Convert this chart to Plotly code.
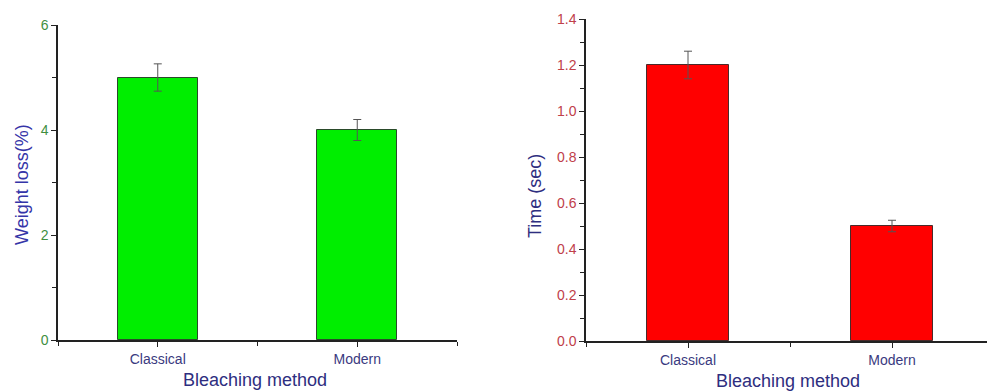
import plotly.graph_objects as go

# Data
methods = ["Classical", "Modern"]
weight_loss = [5.0, 4.0]
weight_loss_err = [0.26, 0.2]
time_sec = [1.2, 0.5]
time_sec_err = [0.06, 0.025]

W, H = 987, 391
xpos = [1, 2]


def px(x):
    return x / W


def py(y):
    return (H - y) / H


fig = go.Figure()

fig.add_trace(go.Bar(
    x=xpos, y=weight_loss, width=0.4,
    marker=dict(color="#00ee00", line=dict(color="#2a4a2a", width=1)),
    error_y=dict(type="data", array=weight_loss_err, color="#555555",
                 thickness=1, width=4),
    xaxis="x", yaxis="y", showlegend=False,
))

fig.add_trace(go.Bar(
    x=xpos, y=time_sec, width=0.4,
    marker=dict(color="#ff0000", line=dict(color="#4a2a2a", width=1)),
    error_y=dict(type="data", array=time_sec_err, color="#555555",
                 thickness=1, width=4),
    xaxis="x2", yaxis="y2", showlegend=False,
))

FONT = "Arial, Liberation Sans, sans-serif"
axis_line = dict(showline=True, linecolor="#222222", linewidth=1.5,
                 ticks="outside", ticklen=5, tickwidth=1.2, tickcolor="#222222",
                 showgrid=False, zeroline=False, automargin=False)
xlab_font = dict(family=FONT, size=14, color="#3a3a80")

fig.update_layout(
    template="none",
    width=W, height=H,
    margin=dict(l=0, r=0, t=0, b=0, autoexpand=False),
    plot_bgcolor="white", paper_bgcolor="white",
    bargap=0,
    xaxis=dict(domain=[px(58), px(457)], range=[0.5, 2.5], anchor="y",
               tickvals=xpos, ticktext=methods, tickfont=xlab_font,
               minor=dict(ticks="outside", tickvals=[0.5, 1.5, 2.5], ticklen=4,
                          tickcolor="#222222"),
               **axis_line),
    yaxis=dict(domain=[py(340), py(25)], range=[0, 6], anchor="x",
               dtick=2, tick0=0,
               tickfont=dict(family=FONT, size=14, color="#3f8f3f"),
               minor=dict(ticks="outside", dtick=1, ticklen=4, tickcolor="#222222"),
               **axis_line),
    xaxis2=dict(domain=[px(586), 1.0], range=[0.5, 0.5 + (W - 586) / 204.0],
                anchor="y2", tickvals=xpos, ticktext=methods, tickfont=xlab_font,
                minor=dict(ticks="outside", tickvals=[0.5, 1.5, 2.5], ticklen=4,
                           tickcolor="#222222"),
                **axis_line),
    yaxis2=dict(domain=[py(341), py(19)], range=[0, 1.4], anchor="x2",
                dtick=0.2, tick0=0, tickformat=".1f",
                tickfont=dict(family=FONT, size=14, color="#c0404a"),
                minor=dict(ticks="outside", dtick=0.1, ticklen=4, tickcolor="#222222"),
                **axis_line),
)

title_font = dict(family=FONT, size=18, color="#2e2e80")
fig.add_annotation(text="Weight loss(%)", x=px(22), y=py(185), xref="paper", yref="paper",
                   textangle=-90, showarrow=False, font=dict(title_font, color="#3535a8"),
                   xanchor="center", yanchor="middle")
fig.add_annotation(text="Time (sec)", x=px(535), y=py(196), xref="paper", yref="paper",
                   textangle=-90, showarrow=False, font=title_font,
                   xanchor="center", yanchor="middle")
fig.add_annotation(text="Bleaching method", x=px(255), y=py(380), xref="paper", yref="paper",
                   showarrow=False, font=title_font, xanchor="center", yanchor="middle")
fig.add_annotation(text="Bleaching method", x=px(788), y=py(381), xref="paper", yref="paper",
                   showarrow=False, font=title_font, xanchor="center", yanchor="middle")

fig.write_html("out.html")
